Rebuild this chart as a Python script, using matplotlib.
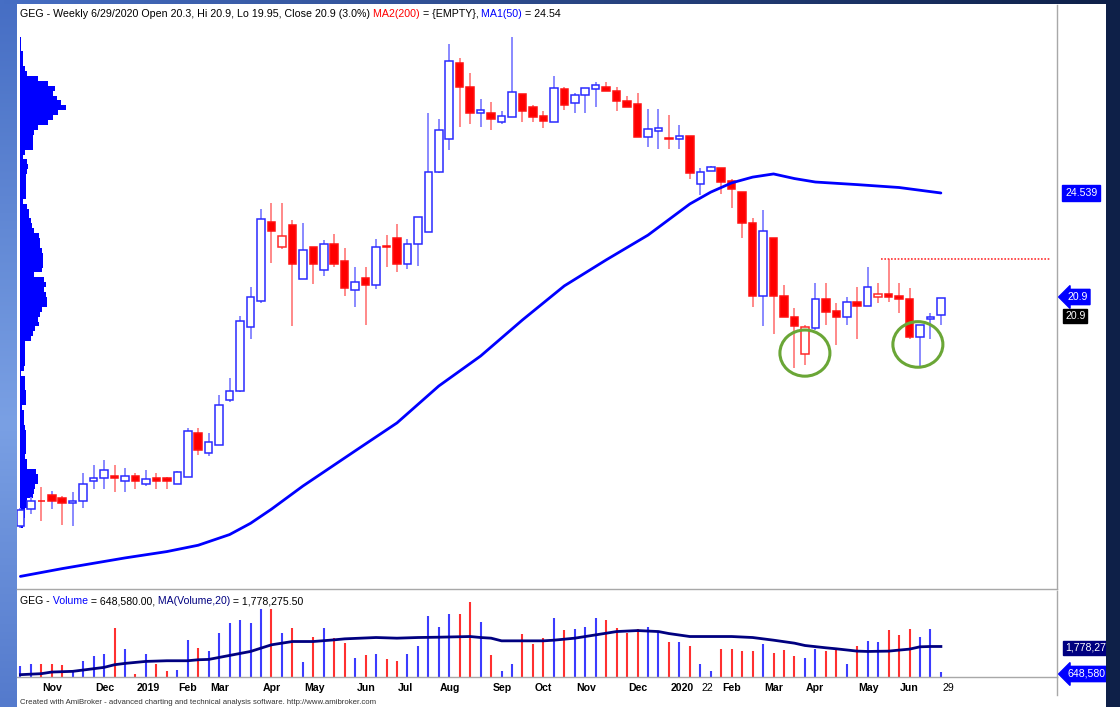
import numpy as np
import matplotlib
matplotlib.use("Agg")
import matplotlib.pyplot as plt
from matplotlib.patches import Rectangle, Ellipse
from matplotlib.lines import Line2D
from matplotlib.transforms import blended_transform_factory

plt.rcParams['font.family'] = ['Liberation Sans', 'DejaVu Sans']

# ---------------- data (weekly bars, Oct 2018 .. 6/29/2020) ----------------
opens = [13.00, 13.59, 13.88, 14.07, 13.96, 13.78, 13.87, 14.57, 14.65, 14.73,
         14.57, 14.73, 14.45, 14.65, 14.65, 14.44, 14.70, 16.21, 15.52, 15.81,
         17.36, 17.68, 19.91, 20.80, 23.52, 22.66, 23.44, 21.57, 22.66, 21.86,
         22.77, 22.17, 21.17, 21.58, 21.36, 22.69, 22.97, 22.08, 22.77, 23.18,
         25.28, 26.41, 29.03, 28.23, 27.30, 27.32, 26.99, 27.19, 27.97, 27.53,
         27.21, 26.99, 28.13, 27.65, 27.94, 28.14, 28.23, 28.08, 27.73, 27.62,
         26.49, 26.70, 26.44, 26.41, 26.52, 24.85, 25.30, 25.42, 24.96, 24.58,
         23.49, 20.97, 22.97, 20.97, 20.25, 18.96, 19.85, 20.86, 20.45, 20.25,
         20.76, 20.62, 20.94, 21.03, 20.97, 20.86, 19.54, 20.16, 20.30]
highs = [13.62, 14.00, 14.34, 14.22, 14.04, 14.19, 14.82, 15.11, 15.28, 15.11,
         15.00, 14.82, 14.94, 14.82, 14.70, 14.91, 16.38, 16.38, 16.21, 17.54,
         18.14, 20.28, 21.27, 23.98, 24.18, 24.18, 23.60, 23.49, 22.66, 22.91,
         23.12, 22.62, 21.96, 21.96, 22.93, 23.08, 23.46, 22.93, 23.70, 27.30,
         27.09, 29.70, 29.21, 28.69, 27.79, 27.70, 27.38, 29.96, 27.97, 27.59,
         27.38, 28.60, 28.20, 28.02, 28.17, 28.40, 28.40, 28.20, 27.90, 27.99,
         27.44, 27.44, 27.24, 26.90, 26.52, 25.42, 25.48, 25.42, 25.01, 24.58,
         23.66, 23.95, 22.97, 21.35, 20.54, 19.96, 21.43, 21.43, 20.74, 20.95,
         21.29, 21.96, 21.43, 22.24, 21.43, 21.24, 19.96, 20.39, 20.90]
lows = [12.93, 13.41, 13.18, 13.58, 13.03, 13.01, 13.61, 14.27, 14.27, 14.19,
        14.19, 14.27, 14.38, 14.27, 14.27, 14.44, 14.68, 15.46, 15.43, 15.81,
        17.30, 17.64, 19.48, 20.72, 22.10, 22.59, 19.93, 21.57, 21.39, 21.67,
        21.98, 20.97, 20.58, 19.96, 21.20, 21.98, 21.81, 21.89, 22.01, 23.18,
        25.22, 26.03, 26.82, 26.93, 26.82, 26.72, 26.92, 27.19, 27.01, 27.01,
        26.78, 26.99, 27.42, 27.32, 27.32, 27.53, 28.06, 27.38, 27.51, 26.49,
        26.12, 26.05, 26.05, 26.05, 25.01, 24.47, 25.30, 24.50, 24.01, 22.97,
        20.60, 19.93, 19.65, 20.25, 18.46, 18.58, 19.80, 19.96, 19.27, 19.96,
        19.47, 20.62, 20.74, 20.77, 20.37, 19.47, 18.52, 19.47, 19.95]
closes = [13.55, 13.86, 13.85, 13.87, 13.78, 13.86, 14.44, 14.65, 14.94, 14.65,
          14.73, 14.57, 14.64, 14.57, 14.57, 14.86, 16.30, 15.63, 15.92, 17.18,
          17.68, 20.11, 20.92, 23.63, 23.23, 23.06, 22.07, 22.56, 22.07, 22.77,
          22.07, 21.26, 21.46, 21.36, 22.68, 22.67, 22.07, 22.77, 23.70, 25.28,
          26.72, 29.11, 28.20, 27.32, 27.42, 27.09, 27.21, 28.03, 27.39, 27.19,
          27.05, 28.17, 27.59, 27.94, 28.17, 28.28, 28.08, 27.73, 27.53, 26.49,
          26.77, 26.80, 26.42, 26.52, 25.24, 25.28, 25.45, 24.93, 24.67, 23.49,
          20.97, 23.23, 20.97, 20.25, 19.94, 19.89, 20.86, 20.43, 20.24, 20.75,
          20.61, 21.27, 21.03, 20.94, 20.86, 19.54, 19.96, 20.25, 20.90]
volume = [927000, 1001000, 1015000, 1001000, 971000, 678000, 1118000, 1338000, 1441000, 2585000,
          1661000, 560000, 1441000, 1015000, 707000, 751000, 2072000, 1705000, 1558000, 2394000,
          2835000, 2952000, 2805000, 3421000, 3421000, 2365000, 2585000, 1074000, 2219000, 2615000,
          2175000, 1925000, 1265000, 1412000, 1441000, 1235000, 1147000, 1441000, 1808000, 3143000,
          2659000, 3202000, 3202000, 3759000, 2879000, 1382000, 707000, 1001000, 2321000, 1881000,
          2145000, 3026000, 2518000, 2556000, 2659000, 3055000, 2952000, 2585000, 2394000, 2541000,
          2644000, 2468000, 1955000, 1984000, 1808000, 1001000, 707000, 1661000, 1661000, 1587000,
          1587000, 1881000, 1470000, 1617000, 1368000, 1250000, 1661000, 1587000, 1661000, 1001000,
          1808000, 2028000, 1984000, 2518000, 2292000, 2556000, 2204000, 2556000, 648580]

# MA1(50) of close at these bar indices
ma50_idx = [0, 4, 10, 14, 17, 20, 22, 24, 27, 32, 36, 40, 44, 48, 52, 56, 60,
            64, 66, 68, 70, 72, 74, 76, 80, 84, 88]
ma50 = [11.25, 11.52, 11.89, 12.11, 12.33, 12.70, 13.09, 13.58, 14.38, 15.60,
        16.57, 17.85, 18.89, 20.14, 21.32, 22.22, 23.08, 24.16, 24.57, 24.89,
        25.09, 25.20, 25.04, 24.92, 24.83, 24.73, 24.54]

# MA(Volume,20), millions of shares
volma_idx = [0, 2, 3, 5, 7, 8, 9, 10, 12, 14, 16, 17, 18, 19, 20, 22, 23, 24, 26, 28,
             30, 31, 34, 36, 38, 40, 43, 44, 45, 46, 48, 50, 51, 53, 55, 57, 59, 61, 62, 64,
             65, 68, 70, 72, 74, 75, 77, 78, 80, 81, 83, 84, 85, 86, 87, 88]
volma = [0.531, 0.575, 0.648, 0.678, 0.795, 0.854, 0.971, 1.030, 1.118, 1.147,
         1.147, 1.191, 1.206, 1.294, 1.382, 1.558, 1.705, 1.852, 1.998, 1.998,
         2.072, 2.116, 2.175, 2.146, 2.175, 2.189, 2.219, 2.175, 2.146, 2.028,
         2.028, 2.028, 2.057, 2.146, 2.292, 2.439, 2.483, 2.439, 2.350, 2.219,
         2.219, 2.219, 2.175, 2.057, 1.925, 1.822, 1.720, 1.675, 1.573, 1.558,
         1.573, 1.618, 1.661, 1.764, 1.778, 1.778]

# volume-at-price profile (relative), 100 price bins from highest high down to lowest low
vap = [1, 1, 1, 2.7, 2.7, 2.7, 5, 7.3, 18.3, 28.3,
       35, 32.7, 37.3, 41, 46, 38.3, 33.3, 27.7, 18.3, 14.3,
       12.7, 12.7, 12.7, 5, 3.3, 7, 8.3, 7, 6, 6,
       6, 6, 6, 3.3, 7.3, 9, 9.3, 10.7, 12, 14,
       19, 20, 20, 21.7, 22.7, 23.3, 23.3, 21.7, 14.3, 24.3,
       25.7, 24.3, 26, 26.7, 26.7, 21.7, 20, 18.3, 19, 15,
       13, 11, 5, 5, 5, 5, 5, 4, 1, 5,
       5, 5, 6, 6, 6, 1.7, 4, 4, 4, 5,
       6, 6, 6, 6, 6, 5, 6.7, 6.7, 16, 17.7,
       17.7, 15, 14.3, 13.3, 6.7, 6.7, 5, 5, 4, 3]

tick_pos = [2, 7, 11, 15, 18, 23, 27, 32, 36, 40, 45, 49, 53, 58, 62, 65, 67, 71, 75, 80, 84, 88]
tick_lbl = ['Nov', 'Dec', '2019', 'Feb', 'Mar', 'Apr', 'May', 'Jun', 'Jul', 'Aug', 'Sep', 'Oct',
            'Nov', 'Dec', '2020', '22', 'Feb', 'Mar', 'Apr', 'May', 'Jun', '29']

resist_level = 22.24
vol_ma_last = 1778275.50
ma50_label = 24.539

# ---------------- figure ----------------
W, H = 1120, 707
fig = plt.figure(figsize=(W / 100, H / 100), dpi=100)
fig.patch.set_facecolor('white')


def fy(py):
    return 1 - py / H


# left gradient strip
axl = fig.add_axes([0, 0, 17 / W, 1])
t = np.linspace(0, 1, 256)[:, None]
c_top = np.array([70, 110, 196]) / 255
c_mid = np.array([122, 160, 228]) / 255
c_bot = np.array([84, 122, 204]) / 255
col = np.where(t < 0.6, c_top + (c_mid - c_top) * (t / 0.6),
               c_mid + (c_bot - c_mid) * ((t - 0.6) / 0.4))
axl.imshow(col[:, None, :], aspect='auto', extent=[0, 1, 0, 1])
axl.axis('off')

# top gradient strip
axt = fig.add_axes([0, 1 - 4 / H, 1, 4 / H])
s = np.linspace(0, 1, 256)[None, :, None]
c_l = np.array([70, 110, 196]) / 255
c_r = np.array([14, 32, 72]) / 255
axt.imshow(c_l + (c_r - c_l) * s, aspect='auto', extent=[0, 1, 0, 1])
axt.axis('off')

n = len(closes)
x = np.arange(n)
XMIN, XMAX = -0.325, 99.1

# ---------------- price panel ----------------
ax = fig.add_axes([17 / W, (H - 589) / H, 1040 / W, 584 / H])
ax.set_xlim(XMIN, XMAX)
ax.set_ylim(10.813, 31.056)
ax.set_xticks([])
ax.set_yticks([])
for sp in ['top', 'left']:
    ax.spines[sp].set_visible(False)
for sp in ['bottom', 'right']:
    ax.spines[sp].set_color('#a8a8a8')
    ax.spines[sp].set_linewidth(1)

# volume profile
lo, hi = min(lows), max(highs)
nb = len(vap)
edges = np.linspace(hi, lo, nb + 1)
centers = (edges[:-1] + edges[1:]) / 2
bh = (hi - lo) / nb
vap_arr = np.array(vap)
ax.barh(centers, vap_arr / vap_arr.max() * 4.4, height=bh, left=-0.03,
        color='#0000ff', linewidth=0, zorder=1)

BLUE_W, RED_W = '#8080ff', '#ff8080'
BLUE_E, RED_E = '#2a2aff', '#ff2a2a'
for i in range(n):
    o, h_, l_, c = opens[i], highs[i], lows[i], closes[i]
    rising = (i == 0) or (c > closes[i - 1])
    wc = BLUE_W if rising else RED_W
    ec = BLUE_E if rising else RED_E
    ax.vlines(i, l_, h_, color=wc, lw=1.3, zorder=2)
    up = c > o
    bottom = min(o, c)
    height = max(abs(c - o), 0.03)
    ax.add_patch(Rectangle((i - 0.36, bottom), 0.72, height,
                           facecolor='white' if up else '#ff0000',
                           edgecolor=ec if up else '#ff1010', lw=1.1, zorder=3))

ax.plot(ma50_idx, ma50, color='#0000ff', lw=2, zorder=4,
        solid_capstyle='round', solid_joinstyle='round')

# resistance dotted line
ax.hlines(resist_level, 82.3, 98.4, colors='#ff3030', linestyles=(0, (1, 1)), lw=1.2, zorder=4)

# green circles
ax.add_patch(Ellipse((75.0, 18.99), 4.78, 1.6, fill=False, edgecolor='#6aa636', lw=2.2, zorder=5))
ax.add_patch(Ellipse((85.8, 19.29), 4.78, 1.58, fill=False, edgecolor='#6aa636', lw=2.2, zorder=5))

# ---------------- volume panel ----------------
axv = fig.add_axes([17 / W, (H - 677) / H, 1040 / W, 86 / H])
axv.set_xlim(XMIN, XMAX)
axv.set_ylim(0.428e6, 4.233e6)
axv.set_xticks([])
axv.set_yticks([])
for sp in ['top', 'left']:
    axv.spines[sp].set_visible(False)
for sp in ['bottom', 'right']:
    axv.spines[sp].set_color('#a8a8a8')
    axv.spines[sp].set_linewidth(1)
vcols = ['#3c3cff' if closes[i] > opens[i] else '#ff3030' for i in range(n)]
axv.vlines(x, 0, volume, colors=vcols, lw=1.5, zorder=2)
axv.plot(volma_idx, np.array(volma) * 1e6, color='#000080', lw=2, zorder=3,
         solid_joinstyle='round')

trans = blended_transform_factory(axv.transData, axv.transAxes)
for p, lbl in zip(tick_pos, tick_lbl):
    bold = not (lbl.isdigit() and len(lbl) <= 2)
    axv.text(p + 0.12, -11 / 86, lbl, transform=trans, ha='left', va='center',
             fontsize=7.6, fontweight='bold' if bold else 'normal', color='black',
             clip_on=False)

fig.add_artist(Line2D([1057 / W, 1057 / W], [fy(677), fy(695)], color='#a8a8a8', lw=1))


# ---------------- texts ----------------
def chain(host, pieces, px, py, size):
    first = host.text(px / W, fy(py), pieces[0][0], color=pieces[0][1], fontsize=size,
                      ha='left', va='center', transform=fig.transFigure, zorder=10)
    prev = first
    for txt, c in pieces[1:]:
        prev = host.annotate(txt, xy=(1, 0), xycoords=prev, ha='left', va='bottom',
                             color=c, fontsize=size, annotation_clip=False, zorder=10)


last = n - 1
chain(ax, [("GEG - Weekly 6/29/2020 Open %.1f, Hi %.1f, Lo %.2f, Close %.1f (3.0%%)"
            % (opens[last], highs[last], lows[last], closes[last]), 'black'),
           (" MA2(200)", '#ff0000'), (" = {EMPTY},", 'black'),
           (" MA1(50)", '#0000ff'), (" = %.2f" % ma50[-1], 'black')], 20, 14, 7.65)

chain(axv, [("GEG -", 'black'), (" Volume", '#0000ff'),
            (" = {:,.2f},".format(volume[-1]), 'black'),
            (" MA(Volume,20)", '#000080'), (" = {:,.2f}".format(vol_ma_last), 'black')],
      20, 601, 7.6)

fig.text(20 / W, fy(702), "Created with AmiBroker - advanced charting and technical analysis "
         "software. http://www.amibroker.com", fontsize=5.6, color='#333333',
         ha='left', va='center')

# right-side value labels
fig.text(1065 / W, fy(193), "%.3f" % ma50_label, color='white', fontsize=7.6, ha='left',
         va='center', bbox=dict(boxstyle='square,pad=0.25', fc='#0000ff', ec='#0000ff'))
fig.text(1067 / W, fy(297), "%.1f" % closes[-1], color='white', fontsize=7.6, ha='left',
         va='center', bbox=dict(boxstyle='larrow,pad=0.25', fc='#0000ff', ec='#0000ff'))
fig.text(1065 / W, fy(316), "%.1f" % closes[-1], color='white', fontsize=7.6, ha='left',
         va='center', bbox=dict(boxstyle='square,pad=0.2', fc='black', ec='black'))
fig.text(1065 / W, fy(648), "{:,.0f}".format(vol_ma_last), color='white', fontsize=7.6,
         ha='left', va='center', bbox=dict(boxstyle='square,pad=0.2', fc='#000080', ec='#000080'))
fig.text(1067 / W, fy(674), "{:,}".format(volume[-1]), color='white', fontsize=7.6,
         ha='left', va='center', bbox=dict(boxstyle='larrow,pad=0.25', fc='#0000ff', ec='#0000ff'))

# right dark border
fig.add_artist(Rectangle((1106 / W, 0), 14 / W, 1, transform=fig.transFigure,
                         facecolor='#0e2048', edgecolor='none', zorder=50))

fig.savefig('out.png', dpi=100)
